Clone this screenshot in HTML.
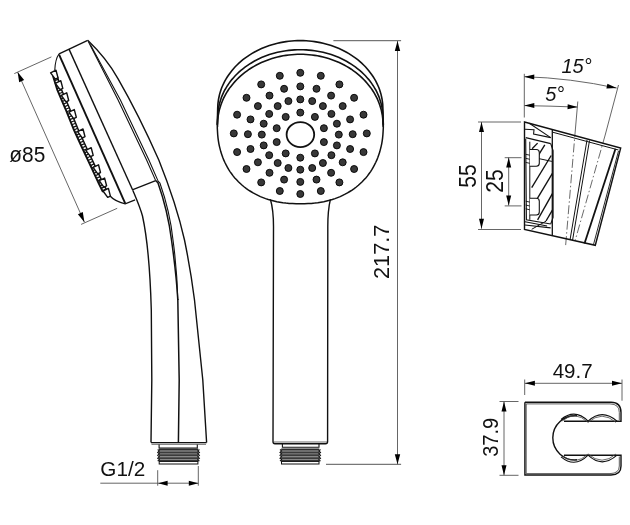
<!DOCTYPE html>
<html><head><meta charset="utf-8"><style>
html,body{margin:0;padding:0;background:#fff;width:630px;height:525px;overflow:hidden}
svg{display:block;font-family:"Liberation Sans",sans-serif;will-change:transform}
</style></head><body>
<svg width="630" height="525" viewBox="0 0 630 525">
<path d="M59.1,53.8 L87.7,40.3" stroke="#111" stroke-width="1.4" fill="none" />
<path d="M59.1,53.8 Q55.3,59 54.8,70" stroke="#111" stroke-width="1.1" fill="none" />
<path d="M59.1,54.6 L125.2,203.4" stroke="#111" stroke-width="1.9" fill="none" />
<path d="M69,49.1 L132.9,190.5" stroke="#111" stroke-width="1.4" fill="none" />
<path d="M88.3,41.5 L118.1,100 L146.6,160 L155.7,180.6" stroke="#111" stroke-width="1.1" fill="none" />
<path d="M90.3,44.5 L120.4,100 L148.9,160 L157.9,180.6" stroke="#111" stroke-width="1.1" fill="none" />
<path d="M109.5,195.5 Q115,201.5 125.2,203.8 L135.1,199.9" stroke="#111" stroke-width="1.3" fill="none" />
<path d="M132.9,189.7 L155.7,180.6" stroke="#111" stroke-width="1.3" fill="none" />
<path d="M132.9,190.5 C136,198 140,207 142.5,216 C146,232 150,265 151.3,310 L151.8,380 L151,442.5" stroke="#111" stroke-width="1.4" fill="none" />
<path d="M155.7,180.6 L158,183 C164,200 169,220 171.5,240 C175,265 177,285 177.8,300" stroke="#111" stroke-width="1.5" fill="none" />
<path d="M157.6,180.6 L159.9,183 C165.9,200 170.9,220 173,240 C176,262 177.3,280 177.8,300" stroke="#111" stroke-width="1.1" fill="none" />
<path d="M177.8,299 L179.2,380 L178.4,443" stroke="#111" stroke-width="1.5" fill="none" />
<path d="M87.7,40.3 C100,52 112,68 118.1,78.8 C132,103 150,140 158.8,160 C172,193 180,220 184.5,240 C189,262 192,280 194.5,300 L202.8,380 L206.6,442.5" stroke="#111" stroke-width="1.4" fill="none" />
<path d="M151,442.7 L206.6,442.7" stroke="#111" stroke-width="1.3" fill="none" />
<path d="M151.5,444.3 L206,444.3" stroke="#444" stroke-width="0.8" fill="none" />
<path d="M159.1,444.4 L159.1,448 L197.3,448 L197.3,444.4" stroke="#111" stroke-width="1.1" fill="none" />
<path d="M158.9,449.5 L198.2,449.5" stroke="#1c1c1c" stroke-width="2.0" fill="none" />
<path d="M158.9,452.4 L198.2,452.4" stroke="#1c1c1c" stroke-width="2.0" fill="none" />
<path d="M158.9,455.3 L198.2,455.3" stroke="#1c1c1c" stroke-width="2.0" fill="none" />
<path d="M158.9,458.2 L198.2,458.2" stroke="#1c1c1c" stroke-width="2.0" fill="none" />
<path d="M158.9,461.1 L198.2,461.1" stroke="#1c1c1c" stroke-width="2.0" fill="none" />
<rect x="159.2" y="449.5" width="38.7" height="11.6" fill="#555" opacity="0.55"/>
<path d="M157.7,449.5 L159.3,450.9 L157.7,452.4 L159.3,453.8 L157.7,455.3 L159.3,456.8 L157.7,458.2 L159.3,459.6 L157.7,461.1" stroke="#111" stroke-width="1.1" fill="none" />
<path d="M199.4,449.5 L197.8,450.9 L199.4,452.4 L197.8,453.8 L199.4,455.3 L197.8,456.8 L199.4,458.2 L197.8,459.6 L199.4,461.1" stroke="#111" stroke-width="1.1" fill="none" />
<rect x="159.2" y="461.4" width="38.7" height="2.6" fill="#fff" stroke="#111" stroke-width="1"/>
<path d="M53.0,76.0 L57.3,90.0 L65.5,109.0 L74.0,130.0 L82.0,147.5 L90.6,165.8 L98.7,183.3 L103.0,192.0" stroke="#111" stroke-width="1.9" fill="none" />
<path d="M56.8,74.8 L61.0,88.6 L69.2,107.5 L77.7,128.4 L85.6,145.8 L94.2,164.1 L102.3,181.6 L106.6,190.2" stroke="#111" stroke-width="1.5" fill="none" />
<path d="M53.6,77.9 L57.4,76.7" stroke="#111" stroke-width="1.2" fill="none" />
<path d="M54.4,80.6 L58.2,79.4" stroke="#111" stroke-width="1.2" fill="none" />
<path d="M55.2,83.3 L59.1,82.1" stroke="#111" stroke-width="1.2" fill="none" />
<path d="M56.1,85.9 L59.9,84.8" stroke="#111" stroke-width="1.2" fill="none" />
<path d="M56.9,88.6 L60.7,87.4" stroke="#111" stroke-width="1.2" fill="none" />
<path d="M57.8,91.2 L61.5,89.7" stroke="#111" stroke-width="1.2" fill="none" />
<path d="M58.9,93.8 L62.6,92.2" stroke="#111" stroke-width="1.2" fill="none" />
<path d="M60.1,96.4 L63.7,94.8" stroke="#111" stroke-width="1.2" fill="none" />
<path d="M61.2,99.0 L64.8,97.4" stroke="#111" stroke-width="1.2" fill="none" />
<path d="M62.3,101.5 L65.9,99.9" stroke="#111" stroke-width="1.2" fill="none" />
<path d="M63.4,104.1 L67.1,102.5" stroke="#111" stroke-width="1.2" fill="none" />
<path d="M64.5,106.7 L68.2,105.1" stroke="#111" stroke-width="1.2" fill="none" />
<path d="M65.6,109.2 L69.3,107.7" stroke="#111" stroke-width="1.2" fill="none" />
<path d="M66.6,111.8 L70.4,110.3" stroke="#111" stroke-width="1.2" fill="none" />
<path d="M67.7,114.4 L71.4,112.9" stroke="#111" stroke-width="1.2" fill="none" />
<path d="M68.7,117.0 L72.5,115.5" stroke="#111" stroke-width="1.2" fill="none" />
<path d="M69.8,119.6 L73.5,118.1" stroke="#111" stroke-width="1.2" fill="none" />
<path d="M70.9,122.2 L74.6,120.7" stroke="#111" stroke-width="1.2" fill="none" />
<path d="M71.9,124.8 L75.6,123.3" stroke="#111" stroke-width="1.2" fill="none" />
<path d="M73.0,127.4 L76.7,125.9" stroke="#111" stroke-width="1.2" fill="none" />
<path d="M74.0,130.0 L77.6,128.3" stroke="#111" stroke-width="1.2" fill="none" />
<path d="M75.2,132.6 L78.8,130.9" stroke="#111" stroke-width="1.2" fill="none" />
<path d="M76.3,135.1 L80.0,133.4" stroke="#111" stroke-width="1.2" fill="none" />
<path d="M77.5,137.6 L81.1,136.0" stroke="#111" stroke-width="1.2" fill="none" />
<path d="M78.7,140.2 L82.3,138.5" stroke="#111" stroke-width="1.2" fill="none" />
<path d="M79.8,142.7 L83.5,141.1" stroke="#111" stroke-width="1.2" fill="none" />
<path d="M81.0,145.3 L84.6,143.6" stroke="#111" stroke-width="1.2" fill="none" />
<path d="M82.2,147.8 L85.8,146.1" stroke="#111" stroke-width="1.2" fill="none" />
<path d="M83.3,150.4 L87.0,148.7" stroke="#111" stroke-width="1.2" fill="none" />
<path d="M84.5,152.9 L88.2,151.2" stroke="#111" stroke-width="1.2" fill="none" />
<path d="M85.7,155.4 L89.3,153.7" stroke="#111" stroke-width="1.2" fill="none" />
<path d="M86.9,158.0 L90.5,156.3" stroke="#111" stroke-width="1.2" fill="none" />
<path d="M88.1,160.5 L91.7,158.8" stroke="#111" stroke-width="1.2" fill="none" />
<path d="M89.3,163.0 L92.9,161.3" stroke="#111" stroke-width="1.2" fill="none" />
<path d="M90.5,165.6 L94.1,163.9" stroke="#111" stroke-width="1.2" fill="none" />
<path d="M91.7,168.1 L95.3,166.4" stroke="#111" stroke-width="1.2" fill="none" />
<path d="M92.8,170.6 L96.5,169.0" stroke="#111" stroke-width="1.2" fill="none" />
<path d="M94.0,173.2 L97.7,171.5" stroke="#111" stroke-width="1.2" fill="none" />
<path d="M95.2,175.7 L98.8,174.1" stroke="#111" stroke-width="1.2" fill="none" />
<path d="M96.4,178.3 L100.0,176.6" stroke="#111" stroke-width="1.2" fill="none" />
<path d="M97.5,180.8 L101.2,179.1" stroke="#111" stroke-width="1.2" fill="none" />
<path d="M98.7,183.4 L102.3,181.6" stroke="#111" stroke-width="1.2" fill="none" />
<path d="M100.0,185.9 L103.6,184.1" stroke="#111" stroke-width="1.2" fill="none" />
<path d="M101.2,188.4 L104.8,186.6" stroke="#111" stroke-width="1.2" fill="none" />
<path d="M102.4,190.9 L106.0,189.1" stroke="#111" stroke-width="1.2" fill="none" />
<path d="M50.6,72.8 L56.0,70.2 L58.0,77.9 L55.3,79.2 Z" fill="#fff" stroke="#111" stroke-width="1.4" stroke-linejoin="round"/>
<path d="M55.4,83.3 L60.8,80.7 L62.8,88.4 L60.1,89.7 Z" fill="#fff" stroke="#111" stroke-width="1.4" stroke-linejoin="round"/>
<path d="M61.3,95.4 L66.7,92.8 L68.7,100.5 L66.0,101.8 Z" fill="#fff" stroke="#111" stroke-width="1.4" stroke-linejoin="round"/>
<path d="M68.9,112.2 L74.3,109.6 L76.3,117.3 L73.6,118.6 Z" fill="#fff" stroke="#111" stroke-width="1.4" stroke-linejoin="round"/>
<path d="M77.6,131.6 L83.0,129.0 L85.0,136.7 L82.3,138.0 Z" fill="#fff" stroke="#111" stroke-width="1.4" stroke-linejoin="round"/>
<path d="M85.8,150.3 L91.2,147.7 L93.2,155.4 L90.5,156.7 Z" fill="#fff" stroke="#111" stroke-width="1.4" stroke-linejoin="round"/>
<path d="M93.1,167.4 L98.5,164.8 L100.5,172.5 L97.8,173.8 Z" fill="#fff" stroke="#111" stroke-width="1.4" stroke-linejoin="round"/>
<path d="M99.2,180.7 L104.6,178.1 L106.6,185.8 L103.9,187.1 Z" fill="#fff" stroke="#111" stroke-width="1.4" stroke-linejoin="round"/>
<path d="M103.0,191.0 L108.4,188.4 L110.4,196.1 L107.7,197.4 Z" fill="#fff" stroke="#111" stroke-width="1.4" stroke-linejoin="round"/>
<path d="M17.6,72.1 L84.4,222.2" stroke="#555" stroke-width="0.9" fill="none" />
<path d="M17.6,72.1 L19.2,82.3 L24.1,80.1 Z" fill="#000" stroke="none"/>
<path d="M84.4,222.2 L82.8,212.0 L77.9,214.2 Z" fill="#000" stroke="none"/>
<path d="M14.3,73.6 L51.4,56.9" stroke="#555" stroke-width="0.9" fill="none" />
<path d="M81.1,224.4 L117.2,208.3" stroke="#555" stroke-width="0.9" fill="none" />
<text x="9.3" y="161.5" font-size="22.6"  textLength="36" lengthAdjust="spacingAndGlyphs"  text-anchor="start" fill="#111">ø85</text>
<text x="100.3" y="475.8" font-size="20.7"   text-anchor="start" fill="#111">G1/2</text>
<path d="M157.7,470.2 L157.7,485.7" stroke="#555" stroke-width="0.9" fill="none" />
<path d="M198.3,466 L198.3,485.7" stroke="#555" stroke-width="0.9" fill="none" />
<path d="M100.3,483.2 L198.3,483.2" stroke="#555" stroke-width="0.9" fill="none" />
<path d="M158.1,483.2 L167.6,485.7 L167.6,480.7 Z" fill="#000" stroke="none"/>
<path d="M198.3,483.2 L188.8,480.7 L188.8,485.7 Z" fill="#000" stroke="none"/>
<path d="M383.3,124.0 L383.3,128.0 L383.1,131.5 L382.9,134.7 L382.6,137.8 L382.2,140.8 L381.7,143.8 L381.1,146.6 L380.4,149.4 L379.7,152.1 L378.8,154.7 L377.9,157.3 L376.9,159.9 L375.8,162.3 L374.6,164.7 L373.3,167.1 L372.0,169.4 L370.6,171.6 L369.0,173.8 L367.5,175.9 L365.8,177.9 L364.0,179.8 L362.2,181.7 L360.3,183.5 L358.4,185.3 L356.3,187.0 L354.2,188.6 L352.1,190.1 L349.8,191.5 L347.5,192.9 L345.1,194.2 L342.7,195.4 L340.2,196.6 L337.6,197.6 L335.0,198.6 L332.3,199.5 L329.5,200.3 L326.7,201.0 L323.8,201.7 L320.8,202.2 L317.8,202.7 L314.7,203.1 L311.5,203.4 L308.1,203.6 L304.5,203.8 L300.3,203.8 L296.1,203.8 L292.5,203.6 L289.1,203.4 L285.9,203.1 L282.8,202.7 L279.8,202.2 L276.8,201.7 L273.9,201.0 L271.1,200.3 L268.3,199.5 L265.6,198.6 L263.0,197.6 L260.4,196.6 L257.9,195.4 L255.5,194.2 L253.1,192.9 L250.8,191.5 L248.5,190.1 L246.4,188.6 L244.3,187.0 L242.2,185.3 L240.3,183.5 L238.4,181.7 L236.6,179.8 L234.8,177.9 L233.1,175.9 L231.6,173.8 L230.0,171.6 L228.6,169.4 L227.3,167.1 L226.0,164.7 L224.8,162.3 L223.7,159.9 L222.7,157.3 L221.8,154.7 L220.9,152.1 L220.2,149.4 L219.5,146.6 L218.9,143.8 L218.4,140.8 L218.0,137.8 L217.7,134.7 L217.5,131.5 L217.3,128.0 L217.3,124.0" stroke="#111" stroke-width="1.5" fill="none" />
<path d="M217.3,124.5 L217.7,108.8 L217.8,106.4 L217.9,104.0 L218.2,101.7 L218.5,99.3 L219.0,97.0 L219.5,94.6 L220.2,92.3 L220.9,90.0 L221.7,87.7 L222.7,85.5 L223.7,83.3 L224.8,81.1 L226.1,78.9 L227.4,76.8 L228.8,74.7 L230.3,72.7 L231.8,70.7 L233.5,68.7 L235.2,66.8 L237.0,65.0 L238.9,63.2 L240.9,61.4 L242.9,59.7 L245.0,58.1 L247.2,56.6 L249.4,55.1 L251.7,53.6 L254.1,52.3 L256.5,51.0 L259.0,49.7 L261.5,48.6 L264.1,47.5 L266.7,46.5 L269.4,45.6 L272.0,44.7 L274.8,43.9 L277.5,43.2 L280.3,42.6 L283.1,42.1 L286.0,41.6 L288.8,41.3 L291.7,41.0 L294.5,40.8 L297.4,40.6 L300.3,40.6 L303.2,40.6 L306.1,40.8 L308.9,41.0 L311.8,41.3 L314.6,41.6 L317.5,42.1 L320.3,42.6 L323.1,43.2 L325.8,43.9 L328.6,44.7 L331.2,45.6 L333.9,46.5 L336.5,47.5 L339.1,48.6 L341.6,49.7 L344.1,51.0 L346.5,52.3 L348.9,53.6 L351.2,55.1 L353.4,56.6 L355.6,58.1 L357.7,59.7 L359.7,61.4 L361.7,63.2 L363.6,65.0 L365.4,66.8 L367.1,68.7 L368.8,70.7 L370.3,72.7 L371.8,74.7 L373.2,76.8 L374.5,78.9 L375.8,81.1 L376.9,83.3 L377.9,85.5 L378.9,87.7 L379.7,90.0 L380.4,92.3 L381.1,94.6 L381.6,97.0 L382.1,99.3 L382.4,101.7 L382.7,104.0 L382.8,106.4 L382.9,108.8 L383.3,124.5" stroke="#111" stroke-width="1.6" fill="none" />
<path d="M217.3,124.5 L217.7,117.6 L217.8,115.2 L217.9,112.9 L218.2,110.5 L218.5,108.2 L219.0,105.8 L219.5,103.5 L220.2,101.2 L220.9,98.9 L221.7,96.6 L222.7,94.4 L223.7,92.2 L224.8,90.0 L226.1,87.8 L227.4,85.7 L228.8,83.6 L230.3,81.6 L231.8,79.6 L233.5,77.7 L235.2,75.8 L237.0,74.0 L238.9,72.2 L240.9,70.4 L242.9,68.8 L245.0,67.1 L247.2,65.6 L249.4,64.1 L251.7,62.7 L254.1,61.3 L256.5,60.0 L259.0,58.8 L261.5,57.6 L264.1,56.6 L266.7,55.6 L269.4,54.6 L272.0,53.8 L274.8,53.0 L277.5,52.3 L280.3,51.7 L283.1,51.2 L286.0,50.7 L288.8,50.4 L291.7,50.1 L294.5,49.9 L297.4,49.7 L300.3,49.7 L303.2,49.7 L306.1,49.9 L308.9,50.1 L311.8,50.4 L314.6,50.7 L317.5,51.2 L320.3,51.7 L323.1,52.3 L325.8,53.0 L328.6,53.8 L331.2,54.6 L333.9,55.6 L336.5,56.6 L339.1,57.6 L341.6,58.8 L344.1,60.0 L346.5,61.3 L348.9,62.7 L351.2,64.1 L353.4,65.6 L355.6,67.1 L357.7,68.8 L359.7,70.4 L361.7,72.2 L363.6,74.0 L365.4,75.8 L367.1,77.7 L368.8,79.6 L370.3,81.6 L371.8,83.6 L373.2,85.7 L374.5,87.8 L375.8,90.0 L376.9,92.2 L377.9,94.4 L378.9,96.6 L379.7,98.9 L380.4,101.2 L381.1,103.5 L381.6,105.8 L382.1,108.2 L382.4,110.5 L382.7,112.9 L382.8,115.2 L382.9,117.6 L383.3,124.5" stroke="#111" stroke-width="1.6" fill="none" />
<path d="M217.3,124.5 L217.5,124.8 L217.6,122.3 L217.7,119.9 L218.0,117.4 L218.3,115.0 L218.8,112.6 L219.3,110.1 L220.0,107.7 L220.7,105.4 L221.6,103.0 L222.5,100.7 L223.5,98.4 L224.7,96.1 L225.9,93.9 L227.2,91.7 L228.6,89.5 L230.1,87.4 L231.7,85.4 L233.3,83.4 L235.1,81.4 L236.9,79.5 L238.8,77.6 L240.7,75.8 L242.8,74.1 L244.9,72.4 L247.1,70.8 L249.3,69.2 L251.6,67.8 L254.0,66.4 L256.4,65.0 L258.9,63.7 L261.4,62.6 L264.0,61.4 L266.6,60.4 L269.3,59.4 L272.0,58.6 L274.7,57.8 L277.5,57.0 L280.3,56.4 L283.1,55.8 L285.9,55.4 L288.8,55.0 L291.6,54.7 L294.5,54.5 L297.4,54.3 L300.3,54.3 L303.2,54.3 L306.1,54.5 L309.0,54.7 L311.8,55.0 L314.7,55.4 L317.5,55.8 L320.3,56.4 L323.1,57.0 L325.9,57.8 L328.6,58.6 L331.3,59.4 L334.0,60.4 L336.6,61.4 L339.2,62.6 L341.7,63.7 L344.2,65.0 L346.6,66.4 L349.0,67.8 L351.3,69.2 L353.5,70.8 L355.7,72.4 L357.8,74.1 L359.9,75.8 L361.8,77.6 L363.7,79.5 L365.5,81.4 L367.3,83.4 L368.9,85.4 L370.5,87.4 L372.0,89.5 L373.4,91.7 L374.7,93.9 L375.9,96.1 L377.1,98.4 L378.1,100.7 L379.0,103.0 L379.9,105.4 L380.6,107.7 L381.3,110.1 L381.8,112.6 L382.3,115.0 L382.6,117.4 L382.9,119.9 L383.0,122.3 L383.1,124.8 L383.3,124.5" stroke="#111" stroke-width="1.6" fill="none" />
<ellipse cx="300.4" cy="134.6" rx="13.8" ry="12.5" fill="none" stroke="#111" stroke-width="1.8"/>
<circle cx="300.3" cy="112.6" r="3.5" fill="#383838" stroke="#000" stroke-width="0.9"/>
<circle cx="314.9" cy="116.9" r="3.5" fill="#383838" stroke="#000" stroke-width="0.9"/>
<circle cx="323.9" cy="128.2" r="3.5" fill="#383838" stroke="#000" stroke-width="0.9"/>
<circle cx="323.9" cy="142.1" r="3.5" fill="#383838" stroke="#000" stroke-width="0.9"/>
<circle cx="314.9" cy="153.4" r="3.5" fill="#383838" stroke="#000" stroke-width="0.9"/>
<circle cx="300.3" cy="157.7" r="3.5" fill="#383838" stroke="#000" stroke-width="0.9"/>
<circle cx="285.7" cy="153.4" r="3.5" fill="#383838" stroke="#000" stroke-width="0.9"/>
<circle cx="276.7" cy="142.1" r="3.5" fill="#383838" stroke="#000" stroke-width="0.9"/>
<circle cx="276.7" cy="128.2" r="3.5" fill="#383838" stroke="#000" stroke-width="0.9"/>
<circle cx="285.7" cy="116.9" r="3.5" fill="#383838" stroke="#000" stroke-width="0.9"/>
<circle cx="300.3" cy="99.4" r="3.5" fill="#383838" stroke="#000" stroke-width="0.9"/>
<circle cx="312.2" cy="101.1" r="3.5" fill="#383838" stroke="#000" stroke-width="0.9"/>
<circle cx="322.9" cy="106.1" r="3.5" fill="#383838" stroke="#000" stroke-width="0.9"/>
<circle cx="331.4" cy="113.9" r="3.5" fill="#383838" stroke="#000" stroke-width="0.9"/>
<circle cx="336.9" cy="123.7" r="3.5" fill="#383838" stroke="#000" stroke-width="0.9"/>
<circle cx="338.8" cy="134.6" r="3.5" fill="#383838" stroke="#000" stroke-width="0.9"/>
<circle cx="336.9" cy="145.4" r="3.5" fill="#383838" stroke="#000" stroke-width="0.9"/>
<circle cx="331.4" cy="155.2" r="3.5" fill="#383838" stroke="#000" stroke-width="0.9"/>
<circle cx="322.9" cy="163.0" r="3.5" fill="#383838" stroke="#000" stroke-width="0.9"/>
<circle cx="312.2" cy="168.0" r="3.5" fill="#383838" stroke="#000" stroke-width="0.9"/>
<circle cx="300.3" cy="169.7" r="3.5" fill="#383838" stroke="#000" stroke-width="0.9"/>
<circle cx="288.4" cy="168.0" r="3.5" fill="#383838" stroke="#000" stroke-width="0.9"/>
<circle cx="277.7" cy="163.0" r="3.5" fill="#383838" stroke="#000" stroke-width="0.9"/>
<circle cx="269.2" cy="155.2" r="3.5" fill="#383838" stroke="#000" stroke-width="0.9"/>
<circle cx="263.7" cy="145.4" r="3.5" fill="#383838" stroke="#000" stroke-width="0.9"/>
<circle cx="261.8" cy="134.6" r="3.5" fill="#383838" stroke="#000" stroke-width="0.9"/>
<circle cx="263.7" cy="123.7" r="3.5" fill="#383838" stroke="#000" stroke-width="0.9"/>
<circle cx="269.2" cy="113.9" r="3.5" fill="#383838" stroke="#000" stroke-width="0.9"/>
<circle cx="277.7" cy="106.1" r="3.5" fill="#383838" stroke="#000" stroke-width="0.9"/>
<circle cx="288.4" cy="101.1" r="3.5" fill="#383838" stroke="#000" stroke-width="0.9"/>
<circle cx="300.3" cy="86.4" r="3.5" fill="#383838" stroke="#000" stroke-width="0.9"/>
<circle cx="316.5" cy="88.8" r="3.5" fill="#383838" stroke="#000" stroke-width="0.9"/>
<circle cx="331.1" cy="95.6" r="3.5" fill="#383838" stroke="#000" stroke-width="0.9"/>
<circle cx="342.7" cy="106.1" r="3.5" fill="#383838" stroke="#000" stroke-width="0.9"/>
<circle cx="350.1" cy="119.4" r="3.5" fill="#383838" stroke="#000" stroke-width="0.9"/>
<circle cx="352.7" cy="134.2" r="3.5" fill="#383838" stroke="#000" stroke-width="0.9"/>
<circle cx="350.1" cy="149.0" r="3.5" fill="#383838" stroke="#000" stroke-width="0.9"/>
<circle cx="342.7" cy="162.3" r="3.5" fill="#383838" stroke="#000" stroke-width="0.9"/>
<circle cx="331.1" cy="172.8" r="3.5" fill="#383838" stroke="#000" stroke-width="0.9"/>
<circle cx="316.5" cy="179.6" r="3.5" fill="#383838" stroke="#000" stroke-width="0.9"/>
<circle cx="300.3" cy="181.9" r="3.5" fill="#383838" stroke="#000" stroke-width="0.9"/>
<circle cx="284.1" cy="179.6" r="3.5" fill="#383838" stroke="#000" stroke-width="0.9"/>
<circle cx="269.5" cy="172.8" r="3.5" fill="#383838" stroke="#000" stroke-width="0.9"/>
<circle cx="257.9" cy="162.3" r="3.5" fill="#383838" stroke="#000" stroke-width="0.9"/>
<circle cx="250.5" cy="149.0" r="3.5" fill="#383838" stroke="#000" stroke-width="0.9"/>
<circle cx="247.9" cy="134.2" r="3.5" fill="#383838" stroke="#000" stroke-width="0.9"/>
<circle cx="250.5" cy="119.4" r="3.5" fill="#383838" stroke="#000" stroke-width="0.9"/>
<circle cx="257.9" cy="106.1" r="3.5" fill="#383838" stroke="#000" stroke-width="0.9"/>
<circle cx="269.5" cy="95.6" r="3.5" fill="#383838" stroke="#000" stroke-width="0.9"/>
<circle cx="284.1" cy="88.8" r="3.5" fill="#383838" stroke="#000" stroke-width="0.9"/>
<circle cx="300.3" cy="72.8" r="3.5" fill="#383838" stroke="#000" stroke-width="0.9"/>
<circle cx="320.8" cy="75.8" r="3.5" fill="#383838" stroke="#000" stroke-width="0.9"/>
<circle cx="339.4" cy="84.4" r="3.5" fill="#383838" stroke="#000" stroke-width="0.9"/>
<circle cx="354.1" cy="97.8" r="3.5" fill="#383838" stroke="#000" stroke-width="0.9"/>
<circle cx="363.5" cy="114.7" r="3.5" fill="#383838" stroke="#000" stroke-width="0.9"/>
<circle cx="366.8" cy="133.4" r="3.5" fill="#383838" stroke="#000" stroke-width="0.9"/>
<circle cx="363.5" cy="152.1" r="3.5" fill="#383838" stroke="#000" stroke-width="0.9"/>
<circle cx="354.1" cy="169.0" r="3.5" fill="#383838" stroke="#000" stroke-width="0.9"/>
<circle cx="339.4" cy="182.4" r="3.5" fill="#383838" stroke="#000" stroke-width="0.9"/>
<circle cx="320.8" cy="191.0" r="3.5" fill="#383838" stroke="#000" stroke-width="0.9"/>
<circle cx="300.3" cy="194.0" r="3.5" fill="#383838" stroke="#000" stroke-width="0.9"/>
<circle cx="279.8" cy="191.0" r="3.5" fill="#383838" stroke="#000" stroke-width="0.9"/>
<circle cx="261.2" cy="182.4" r="3.5" fill="#383838" stroke="#000" stroke-width="0.9"/>
<circle cx="246.5" cy="169.0" r="3.5" fill="#383838" stroke="#000" stroke-width="0.9"/>
<circle cx="237.1" cy="152.1" r="3.5" fill="#383838" stroke="#000" stroke-width="0.9"/>
<circle cx="233.8" cy="133.4" r="3.5" fill="#383838" stroke="#000" stroke-width="0.9"/>
<circle cx="237.1" cy="114.7" r="3.5" fill="#383838" stroke="#000" stroke-width="0.9"/>
<circle cx="246.5" cy="97.8" r="3.5" fill="#383838" stroke="#000" stroke-width="0.9"/>
<circle cx="261.2" cy="84.4" r="3.5" fill="#383838" stroke="#000" stroke-width="0.9"/>
<circle cx="279.8" cy="75.8" r="3.5" fill="#383838" stroke="#000" stroke-width="0.9"/>
<path d="M270.4,199.3 Q273.5,210 273.5,226.6 L273,441.5 Q273,443.8 275,443.8 L325.5,443.8 Q327.6,443.8 327.6,441.5 L327.8,226.6 Q327.8,210 330.4,199.3" stroke="#111" stroke-width="1.4" fill="none" />
<path d="M273.5,442 L327,442" stroke="#444" stroke-width="0.8" fill="none" />
<path d="M282.4,443.8 L282.4,447.2 L319,447.2 L319,443.8" stroke="#111" stroke-width="1.1" fill="none" />
<path d="M281.2,449.5 L319.3,449.5" stroke="#1c1c1c" stroke-width="2.0" fill="none" />
<path d="M281.2,452.4 L319.3,452.4" stroke="#1c1c1c" stroke-width="2.0" fill="none" />
<path d="M281.2,455.3 L319.3,455.3" stroke="#1c1c1c" stroke-width="2.0" fill="none" />
<path d="M281.2,458.2 L319.3,458.2" stroke="#1c1c1c" stroke-width="2.0" fill="none" />
<path d="M281.2,461.1 L319.3,461.1" stroke="#1c1c1c" stroke-width="2.0" fill="none" />
<rect x="281.5" y="449.5" width="37.5" height="11.6" fill="#555" opacity="0.55"/>
<path d="M280.0,449.5 L281.6,450.9 L280.0,452.4 L281.6,453.8 L280.0,455.3 L281.6,456.8 L280.0,458.2 L281.6,459.6 L280.0,461.1" stroke="#111" stroke-width="1.1" fill="none" />
<path d="M320.5,449.5 L318.9,450.9 L320.5,452.4 L318.9,453.8 L320.5,455.3 L318.9,456.8 L320.5,458.2 L318.9,459.6 L320.5,461.1" stroke="#111" stroke-width="1.1" fill="none" />
<rect x="281.5" y="461.4" width="37.5" height="2.6" fill="#fff" stroke="#111" stroke-width="1"/>
<path d="M397.5,41 L397.5,464.3" stroke="#555" stroke-width="0.9" fill="none" />
<path d="M333.4,40.7 L401.1,40.7" stroke="#555" stroke-width="1.0" fill="none" />
<path d="M326,464.3 L401.1,464.3" stroke="#555" stroke-width="1.0" fill="none" />
<path d="M397.5,41.0 L394.8,51.0 L400.2,51.0 Z" fill="#000" stroke="none"/>
<path d="M397.5,464.3 L400.2,454.3 L394.8,454.3 Z" fill="#000" stroke="none"/>
<text x="389.4" y="251.8" font-size="22.5"  textLength="54.5" lengthAdjust="spacingAndGlyphs" transform="rotate(-90 389.4 251.8)" text-anchor="middle" fill="#111">217.7</text>
<path d="M524.3,76.7 Q570,78 616.7,88.1" stroke="#555" stroke-width="0.9" fill="none" />
<path d="M524.3,76.7 L534.2,79.4 L534.3,74.4 Z" fill="#000" stroke="none"/>
<path d="M616.7,88.1 L607.4,83.7 L606.4,88.6 Z" fill="#000" stroke="none"/>
<path d="M524.3,73.8 L524.3,117.5" stroke="#555" stroke-width="0.9" fill="none" />
<path d="M618.5,85 L605.2,135" stroke="#555" stroke-width="0.9" fill="none" />
<path d="M605.2,135 L575.3,240" stroke="#444" stroke-width="0.8" fill="none" stroke-dasharray="9 2.5 1.5 2.5"/>
<path d="M524.3,105.6 Q551,106 577.6,107.1" stroke="#555" stroke-width="0.9" fill="none" />
<path d="M524.3,105.6 L534.3,108.1 L534.3,103.1 Z" fill="#000" stroke="none"/>
<path d="M577.6,107.1 L567.7,104.3 L567.5,109.3 Z" fill="#000" stroke="none"/>
<path d="M577.8,101.5 L575.5,128" stroke="#555" stroke-width="0.9" fill="none" />
<path d="M575.5,128 L565.5,247" stroke="#444" stroke-width="0.8" fill="none" stroke-dasharray="9 2.5 1.5 2.5"/>
<text x="561.4" y="72.9" font-size="20" font-style="italic"  text-anchor="start" fill="#111">15°</text>
<text x="545.2" y="100.5" font-size="20" font-style="italic"  text-anchor="start" fill="#111">5°</text>
<path d="M481.5,122 L481.5,228.7" stroke="#555" stroke-width="0.9" fill="none" />
<path d="M478,122 L521,122" stroke="#555" stroke-width="0.9" fill="none" />
<path d="M478,229.5 L521,229.5" stroke="#555" stroke-width="0.9" fill="none" />
<path d="M481.5,122.0 L479.0,132.0 L484.0,132.0 Z" fill="#000" stroke="none"/>
<path d="M481.5,228.7 L484.0,218.7 L479.0,218.7 Z" fill="#000" stroke="none"/>
<text x="476.3" y="176" font-size="23"  textLength="23.5" lengthAdjust="spacingAndGlyphs" transform="rotate(-90 476.3 176)" text-anchor="middle" fill="#111">55</text>
<path d="M508.7,157.5 L508.7,205.5" stroke="#555" stroke-width="0.9" fill="none" />
<path d="M504.7,157.7 L521.5,157.7" stroke="#555" stroke-width="0.9" fill="none" />
<path d="M504.7,205.9 L521.5,205.9" stroke="#555" stroke-width="0.9" fill="none" />
<path d="M508.7,157.5 L506.2,167.5 L511.2,167.5 Z" fill="#000" stroke="none"/>
<path d="M508.7,205.5 L511.2,195.5 L506.2,195.5 Z" fill="#000" stroke="none"/>
<text x="503.2" y="181" font-size="23"  textLength="23.5" lengthAdjust="spacingAndGlyphs" transform="rotate(-90 503.2 181)" text-anchor="middle" fill="#111">25</text>
<path d="M524.5,122 L620.7,148 L595.3,245.3 L524.5,229.5 Z" stroke="#111" stroke-width="1.4" fill="none" />
<path d="M553,132.3 L618.5,150" stroke="#111" stroke-width="1.0" fill="none" />
<path d="M618.5,151 L593.5,244.5" stroke="#111" stroke-width="0.9" fill="none" />
<path d="M552.3,130 L552.3,236" stroke="#111" stroke-width="1.3" fill="none" />
<path d="M587,140 L570,240" stroke="#111" stroke-width="1.0" fill="none" />
<path d="M589.5,140.5 L572.5,240.5" stroke="#111" stroke-width="1.0" fill="none" />
<path d="M615.5,148.8 L584.5,243.5" stroke="#111" stroke-width="1.8" fill="none" />
<path d="M525.0,129.3 L534.0,129.8 L533.6,134.0 L550.7,137.6" stroke="#111" stroke-width="1.1" fill="none" />
<path d="M529.3,123.3 L550.7,137.6" stroke="#111" stroke-width="1.1" fill="none" />
<path d="M525.7,137.6 L550.7,143.6" stroke="#111" stroke-width="1.1" fill="none" />
<path d="M525.7,138.8 L526.4,219.8 L550.7,224.0" stroke="#111" stroke-width="1.1" fill="none" />
<path d="M529.8,141.7 L529.8,219.8" stroke="#111" stroke-width="1.0" fill="none" />
<path d="M550.7,143.6 L553.1,150.7 L553.1,217.4 L550.7,224.0" stroke="#111" stroke-width="1.1" fill="none" />
<path d="M531.7,166.2 L544.8,144.8" stroke="#111" stroke-width="1.35" fill="none" />
<path d="M531.7,187.6 L551.2,155.5" stroke="#111" stroke-width="1.35" fill="none" />
<path d="M531.7,207.9 L552.4,173.3" stroke="#111" stroke-width="1.35" fill="none" />
<path d="M537.6,219.8 L552.4,193.6" stroke="#111" stroke-width="1.35" fill="none" />
<path d="M546.0,221.0 L552.4,210.2" stroke="#111" stroke-width="1.35" fill="none" />
<path d="M532.1,148.8 L537.6,143.1" stroke="#111" stroke-width="1.35" fill="none" />
<path d="M529.8,156.7 L551.9,161.4" stroke="#111" stroke-width="1.0" fill="none" />
<path d="M529.8,149.5 L536.3,149.5 Q539.3,149.5 539.3,152.5 L539.3,163.2 Q539.3,166.2 536.3,166.2 L529.8,166.2" fill="#fff" stroke="#111" stroke-width="1.1"/>
<path d="M529.8,198.3 L536.3,198.3 Q539.3,198.3 539.3,201.3 L539.3,212.0 Q539.3,215.0 536.3,215.0 L529.8,215.0" fill="#fff" stroke="#111" stroke-width="1.1"/>
<path d="M525.7,154.3 L529.8,155.2" stroke="#111" stroke-width="0.9" fill="none" />
<path d="M525.7,158.3 L529.8,159.3" stroke="#111" stroke-width="0.9" fill="none" />
<path d="M525.7,162.4 L529.8,163.3" stroke="#111" stroke-width="0.9" fill="none" />
<path d="M525.7,201.2 L529.8,202.1" stroke="#111" stroke-width="0.9" fill="none" />
<path d="M525.7,205.0 L529.8,206.0" stroke="#111" stroke-width="0.9" fill="none" />
<path d="M525.7,208.8 L529.8,209.8" stroke="#111" stroke-width="0.9" fill="none" />
<path d="M525.0,221.7 L547.1,226.0" stroke="#111" stroke-width="1.1" fill="none" />
<path d="M525.0,225.0 L550.7,227.9" stroke="#111" stroke-width="1.1" fill="none" />
<path d="M531.7,229.3 L546.0,221.2" stroke="#111" stroke-width="1.0" fill="none" />
<path d="M524.9,383.3 L622,383.3" stroke="#555" stroke-width="0.9" fill="none" />
<path d="M524.9,383.3 L534.9,385.8 L534.9,380.8 Z" fill="#000" stroke="none"/>
<path d="M622.0,383.3 L612.0,380.8 L612.0,385.8 Z" fill="#000" stroke="none"/>
<path d="M524.7,379.5 L524.7,395" stroke="#555" stroke-width="0.9" fill="none" />
<path d="M622,379.5 L622,400.7" stroke="#555" stroke-width="0.9" fill="none" />
<text x="552.7" y="378" font-size="20.5"   text-anchor="start" fill="#111">49.7</text>
<path d="M504,401.5 L504,475.3" stroke="#555" stroke-width="0.9" fill="none" />
<path d="M504.0,401.5 L501.5,411.5 L506.5,411.5 Z" fill="#000" stroke="none"/>
<path d="M504.0,475.3 L506.5,465.3 L501.5,465.3 Z" fill="#000" stroke="none"/>
<path d="M499.5,401.5 L518.5,401.5" stroke="#555" stroke-width="0.9" fill="none" />
<path d="M499.5,475.3 L518.5,475.3" stroke="#555" stroke-width="0.9" fill="none" />
<text x="498.3" y="437.3" font-size="22"  textLength="39" lengthAdjust="spacingAndGlyphs" transform="rotate(-90 498.3 437.3)" text-anchor="middle" fill="#111">37.9</text>
<path d="M524.9,402.3 L611,402.3 Q621,402.3 621,412.5 L621,421.2 L564,421.2" stroke="#111" stroke-width="1.4" fill="none" />
<path d="M564,455.2 L621,455.2 L621,466 Q621,475 611,475 L524.9,475 L524.9,402.3" stroke="#111" stroke-width="1.4" fill="none" />
<path d="M526.2,403.9 L610,403.9 Q619.3,404 619.3,412.5 L619.3,420" stroke="#333" stroke-width="0.8" fill="none" />
<path d="M526.2,403.9 L526.2,473.6 L610,473.6 Q619.3,473.5 619.3,466 L619.3,456.5" stroke="#333" stroke-width="0.8" fill="none" />
<path d="M577,415.8 A22.1,22.1 0 1 0 577,459.8" stroke="#111" stroke-width="1.4" fill="none" />
<path d="M561,419.5 Q575,408 588.1,421.2 Q602,408 617,421.2" stroke="#111" stroke-width="1.1" fill="none" />
<path d="M562.5,420.8 Q575,410 588.1,422.4 Q602,410 616,422.4" stroke="#444" stroke-width="0.8" fill="none" />
<path d="M561,456.9 Q575,468.4 588.1,455.2 Q602,468.4 617,455.2" stroke="#111" stroke-width="1.1" fill="none" />
<path d="M562.5,455.6 Q575,466.4 588.1,454 Q602,466.4 616,454" stroke="#444" stroke-width="0.8" fill="none" />
</svg>
</body></html>
